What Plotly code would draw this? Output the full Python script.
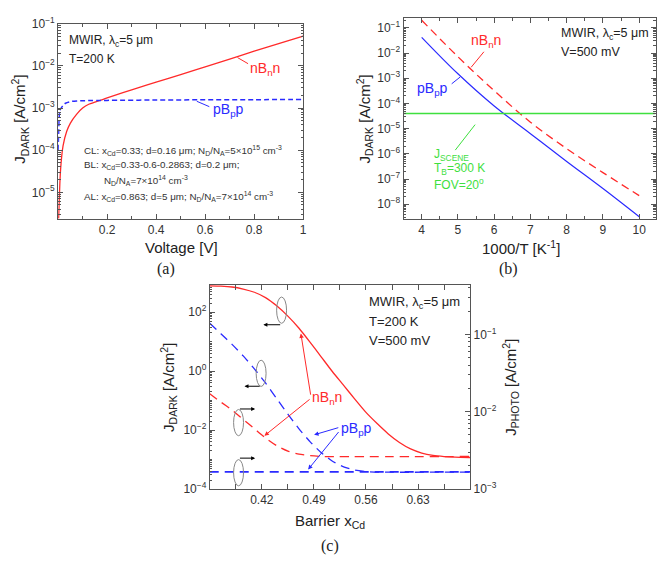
import plotly.graph_objects as go

W, H = 662, 562

# ---------------- Panel (a): J_DARK vs Voltage ----------------
va_nbn = [0.002, 0.005, 0.01, 0.02, 0.035, 0.05, 0.075, 0.1, 0.125, 0.15, 0.17, 0.2,
          0.3, 0.4, 0.5, 0.6, 0.7, 0.8, 0.9, 1.0]
ja_nbn = [2.4e-6, 7.9e-6, 3.5e-5, 1.26e-4, 2.8e-4, 4.4e-4, 7.1e-4, 1.0e-3, 1.23e-3, 1.38e-3,
          1.51e-3, 1.74e-3, 2.7e-3, 4.1e-3, 6.2e-3, 9.5e-3, 1.45e-2, 2.24e-2, 3.4e-2, 5.1e-2]
va_pbp = [0.0, 0.002, 0.004, 0.007, 0.01, 0.02, 0.03, 0.05, 0.08, 0.12, 0.2, 0.4, 0.6, 0.8, 1.0]
ja_pbp = [1.0e-4, 2.5e-4, 6e-4, 8.5e-4, 9.5e-4, 1.15e-3, 1.3e-3, 1.42e-3, 1.48e-3, 1.5e-3,
          1.52e-3, 1.55e-3, 1.57e-3, 1.58e-3, 1.6e-3]

# ---------------- Panel (b): J_DARK vs 1000/T ----------------
invT = [4, 5, 6, 7, 8, 9, 10]
jb_nbn = [2.0e-1, 7.1e-3, 3.2e-4, 1.8e-5, 1.6e-6, 1.8e-7, 2.2e-8]
jb_pbp = [4.2e-2, 1.5e-3, 7.9e-5, 6.3e-6, 5.0e-7, 4.2e-8, 3.2e-9]
invT_scene = [3.5, 10.45]
jb_scene = [4e-5, 4e-5]

# ---------------- Panel (c): J vs barrier x_Cd ----------------
xc_nbn_dark = [0.35, 0.365, 0.38, 0.395, 0.41, 0.425, 0.44, 0.455, 0.47, 0.485, 0.50, 0.515,
               0.53, 0.545, 0.56, 0.575, 0.59, 0.605, 0.62, 0.635, 0.65, 0.665, 0.68, 0.70]
jc_nbn_dark = [794, 776, 724, 617, 479, 316, 166, 74.1, 28.8, 9.55, 3.02, 0.955,
               0.331, 0.112, 0.0398, 0.0166, 7.41e-3, 3.80e-3, 2.29e-3, 1.66e-3, 1.38e-3, 1.26e-3, 1.20e-3, 1.17e-3]
xc_pbp_dark = [0.35, 0.365, 0.38, 0.395, 0.41, 0.425, 0.44, 0.455, 0.47, 0.485, 0.50, 0.515,
               0.53, 0.545, 0.56, 0.58, 0.70]
jc_pbp_dark = [42.7, 18.6, 8.13, 3.31, 1.20, 0.398, 0.117, 0.0347, 0.011, 3.98e-3, 1.70e-3, 8.71e-4,
               5.62e-4, 4.37e-4, 3.89e-4, 3.72e-4, 3.72e-4]
xc_nbn_photo = [0.35, 0.365, 0.38, 0.395, 0.41, 0.425, 0.44, 0.455, 0.47, 0.485, 0.50, 0.70]
jc_nbn_photo = [1.70e-2, 1.33e-2, 1.05e-2, 7.94e-3, 6.03e-3, 4.57e-3, 3.63e-3, 3.09e-3, 2.82e-3,
                2.69e-3, 2.63e-3, 2.63e-3]
xc_pbp_photo = [0.35, 0.70]
jc_pbp_photo = [1.66e-3, 1.66e-3]

RED = "#ff2a2a"
BLUE = "#2a2aff"
GREEN = "#3ee03e"
AX = "#555555"
FONT = "Liberation Sans, Arial, sans-serif"
SERIF = "Liberation Serif, Times New Roman, serif"


def px(sx):
    return sx / W


def py(sy):
    return 1 - sy / H


def pow_text(e):
    return "10<sup>" + ("\u2212" if e < 0 else "") + str(abs(e)) + "</sup>"


def log_ticks(lo, hi, step=1):
    vals = [10.0 ** e for e in range(lo, hi + 1, step)]
    txt = [pow_text(e) for e in range(lo, hi + 1, step)]
    return vals, txt


def log_minor(lo, hi, step=1):
    out = []
    for e in range(lo, hi):
        for m in range(2, 10):
            out.append(m * 10.0 ** e)
        if step > 1 and (e - lo) % step != 0:
            out.append(10.0 ** e)
    return out


fig = go.Figure()

# panel a traces
fig.add_trace(go.Scatter(x=va_nbn, y=ja_nbn, mode="lines", line=dict(color=RED, width=1.3, shape="spline"),
                         xaxis="x", yaxis="y"))
fig.add_trace(go.Scatter(x=va_pbp, y=ja_pbp, mode="lines",
                         line=dict(color=BLUE, width=1.5, dash="5px,3px", shape="spline"),
                         xaxis="x", yaxis="y"))
# panel b traces
fig.add_trace(go.Scatter(x=invT, y=jb_nbn, mode="lines",
                         line=dict(color=RED, width=1.3, dash="8px,5px", shape="spline"),
                         xaxis="x2", yaxis="y2"))
fig.add_trace(go.Scatter(x=invT, y=jb_pbp, mode="lines", line=dict(color=BLUE, width=1.2, shape="spline"),
                         xaxis="x2", yaxis="y2"))
fig.add_trace(go.Scatter(x=invT_scene, y=jb_scene, mode="lines", line=dict(color=GREEN, width=1.5),
                         xaxis="x2", yaxis="y2"))
# panel c traces
fig.add_trace(go.Scatter(x=xc_nbn_dark, y=jc_nbn_dark, mode="lines",
                         line=dict(color=RED, width=1.3, shape="spline", smoothing=0.6),
                         xaxis="x3", yaxis="y3"))
fig.add_trace(go.Scatter(x=xc_pbp_dark, y=jc_pbp_dark, mode="lines",
                         line=dict(color=BLUE, width=1.3, dash="9px,6px", shape="spline", smoothing=0.6),
                         xaxis="x3", yaxis="y3"))
fig.add_trace(go.Scatter(x=xc_nbn_photo, y=jc_nbn_photo, mode="lines",
                         line=dict(color=RED, width=1.3, dash="9px,6px", shape="spline", smoothing=0.6),
                         xaxis="x3", yaxis="y4"))
fig.add_trace(go.Scatter(x=xc_pbp_photo, y=jc_pbp_photo, mode="lines",
                         line=dict(color=BLUE, width=1.6, dash="9px,6px"), xaxis="x3", yaxis="y4"))

common = dict(showline=True, linecolor=AX, linewidth=1, ticks="inside", ticklen=5, tickwidth=1,
              tickcolor=AX, showgrid=False, zeroline=False, mirror="allticks", ticklabeloverflow="allow",
              tickfont=dict(family=FONT, size=12, color="#333"))

ya_vals, ya_txt = log_ticks(-5, -1)
yb_vals, yb_txt = log_ticks(-8, -1)
yc_vals, yc_txt = log_ticks(-4, 2, 2)
yd_vals, yd_txt = log_ticks(-3, -1)

fig.update_layout(
    width=W, height=H, margin=dict(l=0, r=0, t=0, b=0),
    paper_bgcolor="white", plot_bgcolor="white", showlegend=False,
    font=dict(family=FONT, color="#222"),
    xaxis=dict(domain=[px(58.5), px(305)], anchor="y", range=[0, 1],
               tickmode="array", tickvals=[0.2, 0.4, 0.6, 0.8, 1.0], ticktext=["0.2", "0.4", "0.6", "0.8", "1"],
               minor=dict(tickmode="array", tickvals=[0.1, 0.3, 0.5, 0.7, 0.9], ticks="inside", ticklen=3,
                          tickcolor=AX), **common),
    yaxis=dict(domain=[py(216), py(15)], anchor="x", type="log", range=[-5.63, -0.995],
               tickmode="array", tickvals=ya_vals, ticktext=ya_txt,
               minor=dict(tickmode="array", tickvals=log_minor(-6, -1), ticks="inside", ticklen=2.5,
                          tickcolor=AX), **common),
    xaxis2=dict(domain=[px(406), px(659.5)], anchor="y2", range=[3.5, 10.45],
                tickmode="array", tickvals=invT, ticktext=[str(v) for v in invT],
                minor=dict(tickmode="array", tickvals=[4.5, 5.5, 6.5, 7.5, 8.5, 9.5], ticks="inside", ticklen=3,
                           tickcolor=AX), **common),
    yaxis2=dict(domain=[py(216), py(9.5)], anchor="x2", type="log", range=[-8.58, -0.62],
                tickmode="array", tickvals=yb_vals, ticktext=yb_txt,
                minor=dict(tickmode="array", tickvals=log_minor(-9, 0), ticks="inside", ticklen=2.5,
                           tickcolor=AX), **common),
    xaxis3=dict(domain=[px(211), px(473)], anchor="y3", range=[0.35, 0.70],
                tickmode="array", tickvals=[0.42, 0.49, 0.56, 0.63], ticktext=["0.42", "0.49", "0.56", "0.63"],
                minor=dict(tickmode="array", tickvals=[0.385, 0.455, 0.525, 0.595, 0.665], ticks="inside",
                           ticklen=3, tickcolor=AX), **common),
    yaxis3=dict(domain=[py(494), py(284)], anchor="x3", type="log", range=[-4, 2.93],
                tickmode="array", tickvals=yc_vals, ticktext=yc_txt,
                minor=dict(tickmode="array", tickvals=log_minor(-4, 3, 2), ticks="inside", ticklen=2.5,
                           tickcolor=AX), **{**common, "mirror": False}),
    yaxis4=dict(anchor="x3", overlaying="y3", side="right", type="log", range=[-3, -0.36],
                tickmode="array", tickvals=yd_vals, ticktext=yd_txt,
                minor=dict(tickmode="array", tickvals=log_minor(-3, 0), ticks="inside", ticklen=2.5,
                           tickcolor=AX), **{**common, "mirror": False}),
)

ann = []


def text(sx, sy, t, size=14, color="#222", xanchor="left", angle=0, family=FONT):
    ann.append(dict(x=px(sx), y=py(sy), xref="paper", yref="paper", text=t, showarrow=False,
                    xanchor=xanchor, yanchor="middle", textangle=angle, borderpad=0,
                    font=dict(family=family, size=size, color=color)))


def arrow(x0, y0, x1, y1, color, head=True, size=0.9):
    ann.append(dict(x=px(x1), y=py(y1), xref="paper", yref="paper", ax=x0 - x1, ay=y0 - y1,
                    axref="pixel", ayref="pixel", text="", showarrow=True,
                    arrowhead=2 if head else 0, arrowsize=size, arrowwidth=1, arrowcolor=color,
                    standoff=0, startstandoff=0))


DARK_T = "J<sub>DARK</sub> [A/cm<sup>2</sup>]"

# Panel (a) annotations
text(68, 33, "MWIR, \u03bb<sub>c</sub>=5 \u03bcm", 12)
text(68, 51, "T=200 K", 12)
text(251, 62, "nB<sub>n</sub>n", 14, RED)
arrow(251, 57, 239, 50, RED, head=False)
text(213, 104, "pB<sub>p</sub>p", 14, BLUE)
arrow(212, 101, 198, 95, BLUE, head=False)
text(84, 146, "CL: x<sub>Cd</sub>=0.33; d=0.16 \u03bcm; N<sub>D</sub>/N<sub>A</sub>=5\u00d710<sup>15</sup> cm<sup>-3</sup>", 9.8, "#333")
text(84, 161, "BL: x<sub>Cd</sub>=0.33-0.6-0.2863; d=0.2 \u03bcm;", 9.8, "#333")
text(104, 177, "N<sub>D</sub>/N<sub>A</sub>=7\u00d710<sup>14</sup> cm<sup>-3</sup>", 9.8, "#333")
text(84, 193, "AL: x<sub>Cd</sub>=0.863; d=5 \u03bcm; N<sub>D</sub>/N<sub>A</sub>=7\u00d710<sup>14</sup> cm<sup>-3</sup>", 9.8, "#333")
text(20, 113, DARK_T, 15, xanchor="center", angle=-90)
text(183, 245, "Voltage [V]", 15, xanchor="center")
text(167, 268, "(a)", 16, xanchor="center", family=SERIF)

# Panel (b) annotations
text(563, 26, "MWIR, \u03bb<sub>c</sub>=5 \u03bcm", 12.5)
text(563, 44, "V=500 mV", 12.5)
text(473, 33, "nB<sub>n</sub>n", 14, RED)
arrow(488, 43, 474, 60, RED, head=False)
text(419, 82, "pB<sub>p</sub>p", 14, BLUE)
arrow(453, 78, 463, 70, BLUE, head=False)
text(436, 150, "J<sub>SCENE</sub>", 12, GREEN)
text(436, 165, "T<sub>B</sub>=300 K", 12, GREEN)
text(436, 180, "FOV=20<sup>o</sup>", 12, GREEN)
arrow(457, 146, 478, 119, GREEN, head=False)
text(367, 113, DARK_T, 15, xanchor="center", angle=-90)
text(524, 245, "1000/T [K<sup>-1</sup>]", 15, xanchor="center")
text(512, 268, "(b)", 16, xanchor="center", family=SERIF)

# Panel (c) annotations
text(370, 302, "MWIR, \u03bb<sub>c</sub>=5 \u03bcm", 13)
text(370, 322, "T=200 K", 13)
text(370, 341, "V=500 mV", 13)
text(313, 400, "nB<sub>n</sub>n", 14, RED)
arrow(312.7, 396.7, 302.7, 334, RED)
arrow(312.7, 401.7, 266, 439.3, RED)
text(342, 432, "pB<sub>p</sub>p", 14, BLUE)
arrow(341.7, 430.7, 316, 438.3, BLUE)
arrow(341.7, 435, 310, 474, BLUE)
arrow(283.3, 325, 265, 325, "black", size=0.8)
arrow(262.7, 388.3, 246, 388.3, "black", size=0.8)
arrow(240, 411.7, 256.7, 411.7, "black", size=0.8)
arrow(240, 462.3, 256.7, 462.3, "black", size=0.8)
text(170, 389, DARK_T, 15, xanchor="center", angle=-90)
text(514, 389, "J<sub>PHOTO</sub> [A/cm<sup>2</sup>]", 15, xanchor="center", angle=-90)
text(332, 528, "Barrier x<sub>Cd</sub>", 15, xanchor="center")
text(332, 553, "(c)", 16, xanchor="center", family=SERIF)

shapes = []
for cx, cy in [(283.3, 310), (262.7, 375), (240, 425.7), (240, 477.3)]:
    shapes.append(dict(type="circle", xref="paper", yref="paper", x0=px(cx - 5), x1=px(cx + 5),
                       y0=py(cy + 13.5), y1=py(cy - 13.5), line=dict(color="#888", width=1)))

fig.update_layout(annotations=ann, shapes=shapes)
# remove the default 8px page margin so the 662x562 figure fills the window exactly
fig.write_html("out.html", config={"displayModeBar": False},
               post_script="document.body.style.margin='0';document.body.style.overflow='hidden';")
